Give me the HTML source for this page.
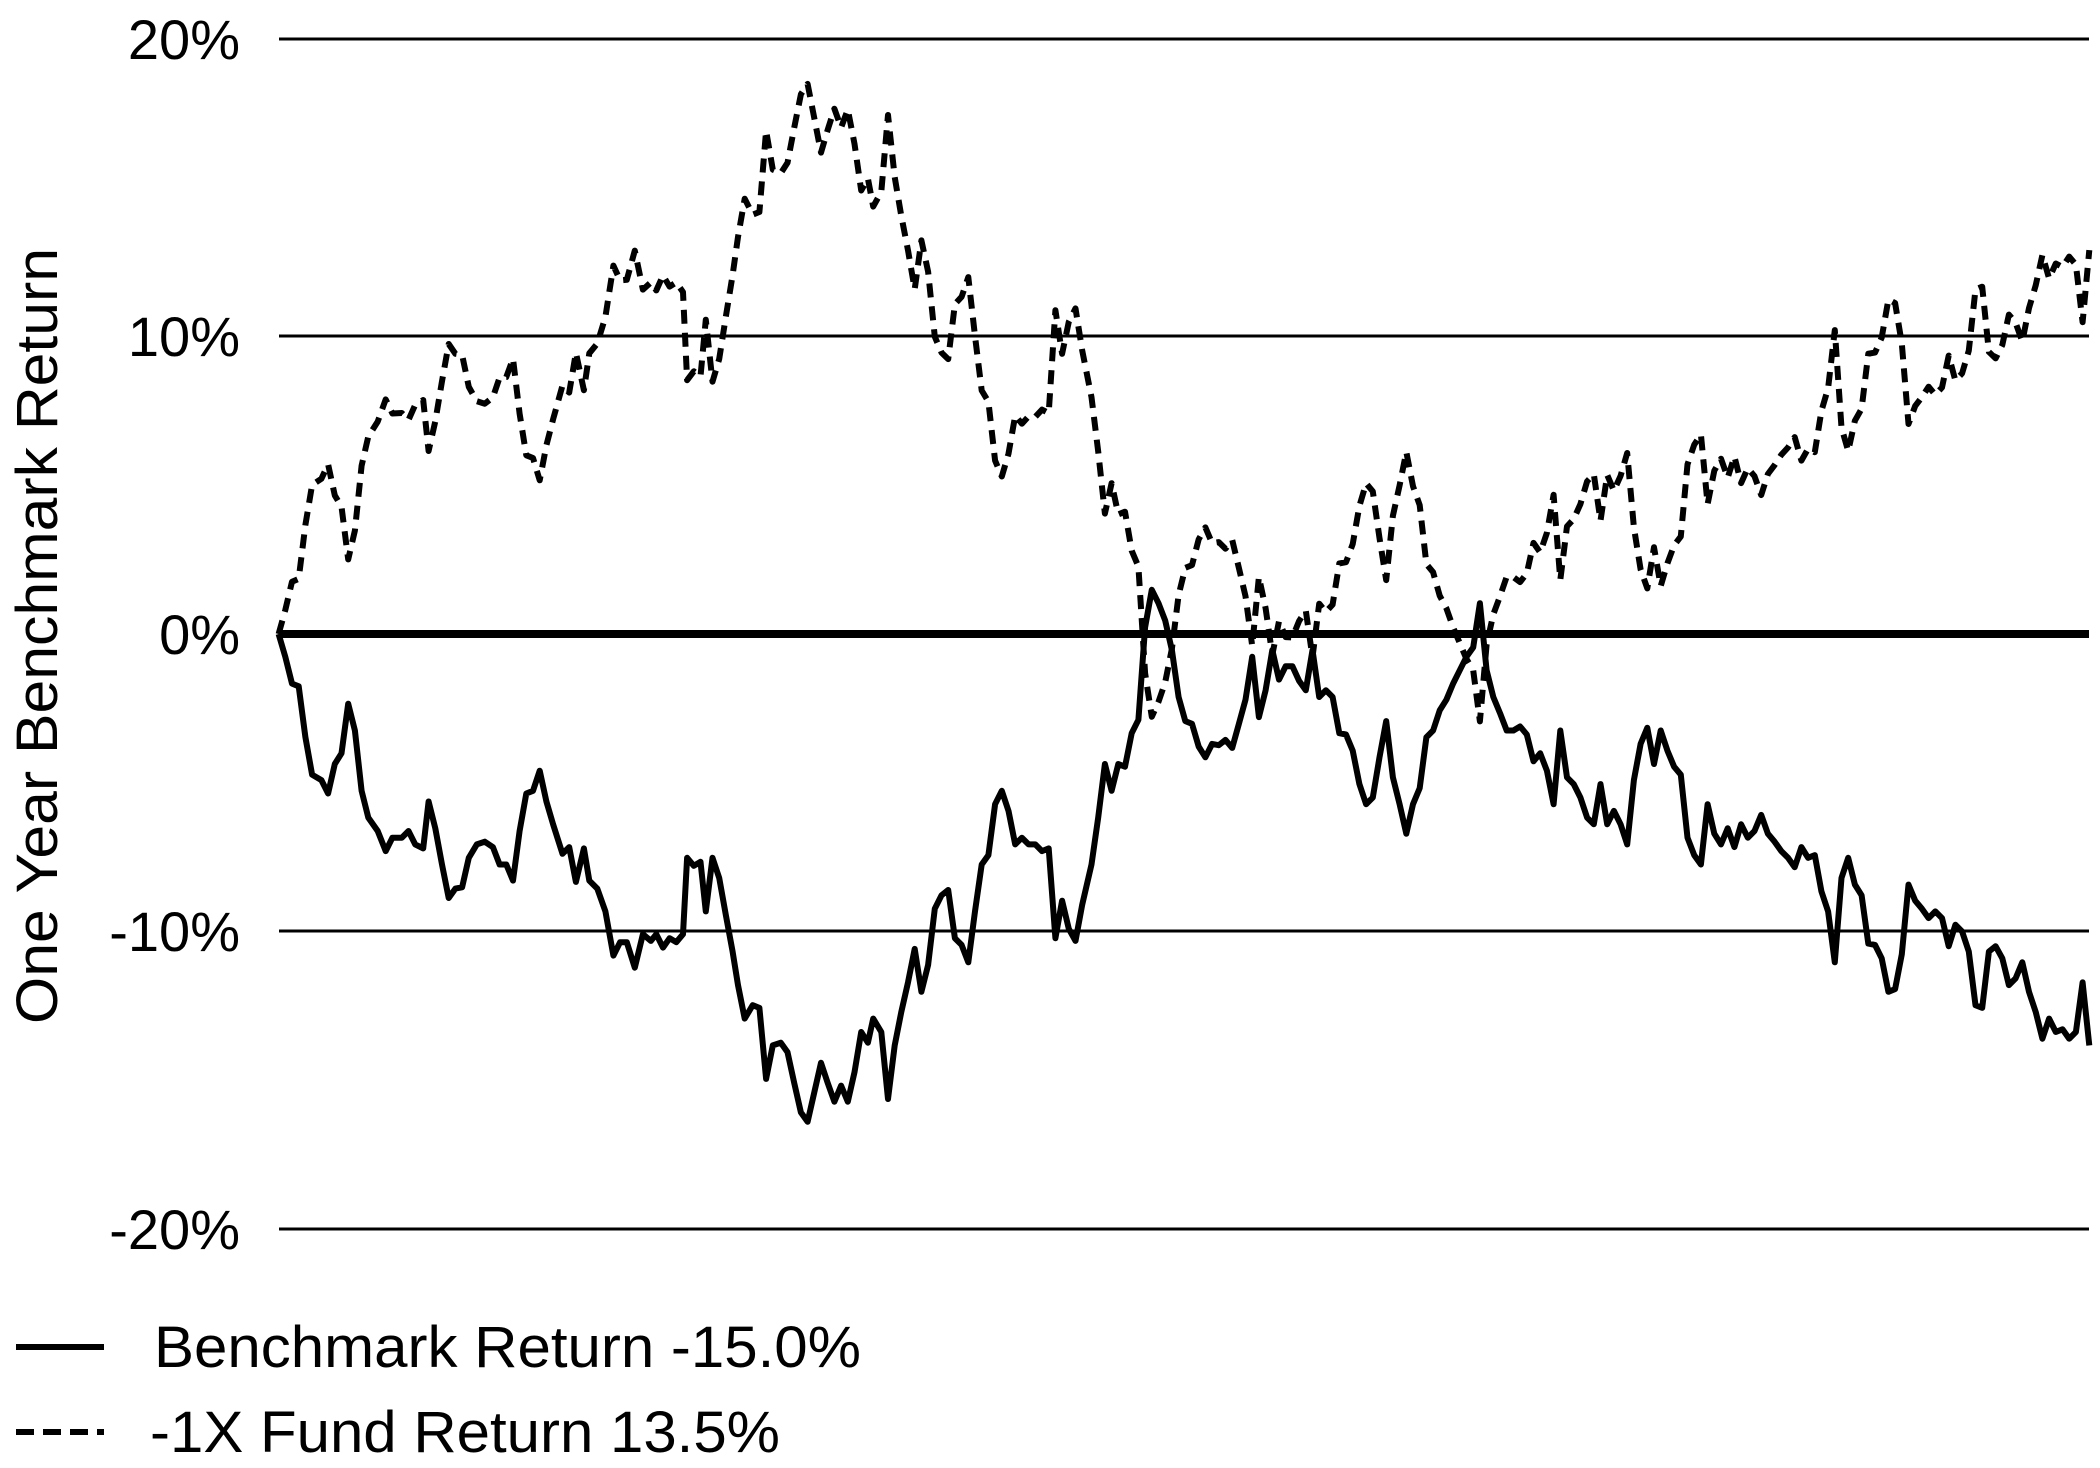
<!DOCTYPE html>
<html><head><meta charset="utf-8">
<style>
html,body{margin:0;padding:0;background:#fff;}
svg{display:block;}
text{font-family:"Liberation Sans",Arial,sans-serif;fill:#000;}
</style></head>
<body>
<svg id="c" width="2100" height="1468" viewBox="0 0 2100 1468" xmlns="http://www.w3.org/2000/svg">
<g stroke="#000" stroke-width="3">
<line x1="279" y1="39" x2="2089" y2="39"/>
<line x1="279" y1="336" x2="2089" y2="336"/>
<line x1="279" y1="931" x2="2089" y2="931"/>
<line x1="279" y1="1229" x2="2089" y2="1229"/>
</g>
<line x1="279" y1="634" x2="2089" y2="634" stroke="#000" stroke-width="8"/>
<g font-size="56" text-anchor="end">
<text x="240" y="59">20%</text>
<text x="240" y="356">10%</text>
<text x="240" y="654">0%</text>
<text x="240" y="951">-10%</text>
<text x="240" y="1249">-20%</text>
</g>
<text font-size="58" text-anchor="middle" transform="translate(57,636) rotate(-90)" textLength="776" lengthAdjust="spacingAndGlyphs">One Year Benchmark Return</text>
<path id="b" fill="none" stroke="#000" stroke-width="6" stroke-linejoin="round"/>
<path id="f" fill="none" stroke="#000" stroke-width="6" stroke-dasharray="14,9" stroke-linejoin="round"/>
<line x1="16" y1="1347" x2="104" y2="1347" stroke="#000" stroke-width="6"/>
<line x1="16" y1="1432" x2="104" y2="1432" stroke="#000" stroke-width="6" stroke-dasharray="18,9"/>
<text x="154" y="1367" font-size="58" textLength="707" lengthAdjust="spacingAndGlyphs">Benchmark Return -15.0%</text>
<text x="150" y="1452" font-size="58" textLength="630" lengthAdjust="spacingAndGlyphs">-1X Fund Return 13.5%</text>
</svg>
<script>
var d=[208,473,213,490,218,510,223,512,228,550,233,578,240,582,245,592,250,570,255,562,260,525,265,545,270,590,275,610,282,620,288,635,293,625,300,625,305,620,310,630,316,633,320,598,325,618,330,645,335,670,340,663,345,662,350,640,356,630,362,628,368,632,373,645,378,645,383,657,388,620,393,592,398,590,403,575,408,598,413,615,420,637,425,632,430,658,436,633,440,657,446,663,452,680,458,713,463,703,468,703,474,722,480,697,486,702,490,697,495,707,500,700,505,703,510,697,513,640,518,646,523,643,527,680,532,640,537,655,542,683,547,710,551,735,556,760,562,750,567,752,572,805,577,780,583,778,588,785,593,808,598,830,603,837,608,815,613,793,618,808,623,822,628,810,633,822,638,800,643,770,648,778,652,760,658,770,663,820,668,780,673,755,678,733,683,708,688,740,693,720,698,678,703,668,708,664,713,700,718,705,723,718,728,680,733,645,738,638,743,600,748,590,753,605,758,630,763,625,768,630,773,630,778,635,783,633,788,700,793,672,798,693,803,702,808,675,815,645,820,610,825,570,830,590,835,570,840,572,845,547,850,537,855,468,860,440,865,450,870,463,875,485,880,520,885,538,890,540,895,557,900,565,905,555,910,556,915,552,920,558,925,540,930,522,935,490,940,535,945,515,950,485,955,507,960,497,965,497,970,508,975,515,980,485,985,520,990,515,995,520,1000,547,1005,548,1010,560,1015,585,1020,600,1025,595,1030,565,1035,538,1040,580,1045,600,1050,622,1055,600,1060,588,1065,550,1070,545,1075,530,1080,522,1085,510,1090,500,1095,490,1100,483,1105,450,1110,500,1115,520,1120,532,1125,545,1130,545,1135,542,1140,548,1145,568,1150,562,1155,575,1160,600,1165,545,1170,580,1175,585,1180,595,1185,610,1190,615,1195,585,1200,615,1205,605,1210,615,1215,630,1220,582,1225,555,1230,543,1235,570,1240,545,1245,560,1250,572,1255,578,1260,625,1265,638,1270,645,1275,600,1280,622,1285,630,1290,618,1295,632,1300,615,1305,625,1310,620,1315,608,1320,622,1325,628,1330,635,1335,640,1340,647,1345,632,1350,640,1355,638,1360,665,1365,680,1370,718,1375,655,1380,640,1385,660,1390,668,1395,704,1400,705,1405,715,1410,740,1415,738,1420,712,1425,660,1430,672,1435,678,1440,685,1445,680,1450,685,1455,706,1460,690,1465,695,1470,710,1475,750,1480,752,1485,710,1490,706,1495,715,1500,735,1505,730,1510,718,1515,740,1520,755,1525,775,1530,760,1535,770,1540,768,1545,775,1550,770,1555,733,1560,780];
var pb="",pf="";
for(var i=0;i<d.length;i+=2){
 var x=d[i],y=d[i+1];
 var r=(473-y)/222*0.1;
 var X=(x*1.3393).toFixed(1);
 var t=Math.max(0,(x-470)/1090);
 var k=x<470?1.05+0.1*(x-208)/262:1.15;
 var rf=-k*r-0.03*t;
 if(i==0)rf=0;
 pb+=(i?"L":"M")+X+","+(634-r*2975).toFixed(1);
 pf+=(i?"L":"M")+X+","+(634-rf*2975).toFixed(1);
}
document.getElementById("b").setAttribute("d",pb);
document.getElementById("f").setAttribute("d",pf);
</script>
</body></html>
